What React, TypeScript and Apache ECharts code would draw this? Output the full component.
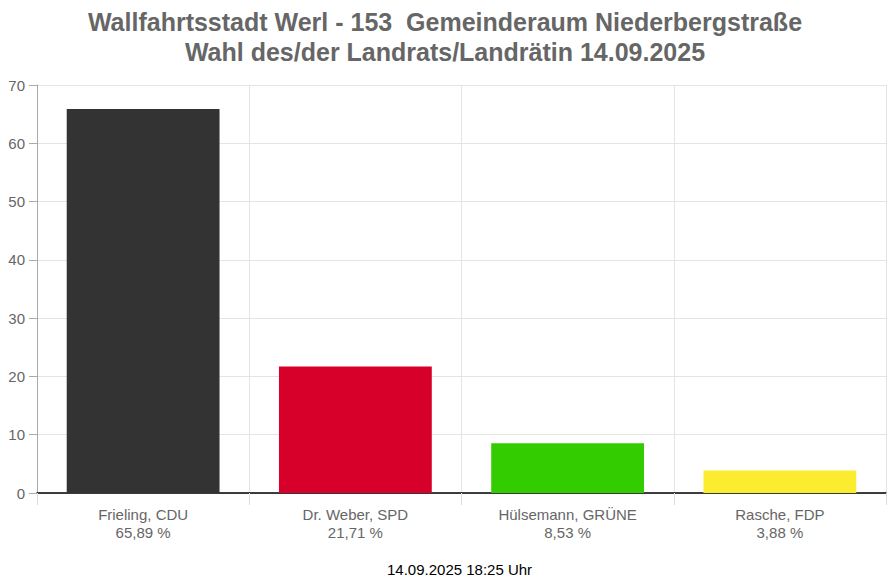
import React, { useEffect, useRef } from "react";
import * as echarts from "echarts";

const categories = ["Frieling, CDU", "Dr. Weber, SPD", "Hülsemann, GRÜNE", "Rasche, FDP"];
const values = [65.89, 21.71, 8.53, 3.88];
const percentLabels = ["65,89 %", "21,71 %", "8,53 %", "3,88 %"];
const colors = ["#333333", "#d7002a", "#33cc00", "#fcec30"];
const titleLines = [
  "Wallfahrtsstadt Werl - 153  Gemeinderaum Niederbergstraße",
  "Wahl des/der Landrats/Landrätin 14.09.2025",
];
const footer = "14.09.2025 18:25 Uhr";

const FONT = "Arial, 'Liberation Sans', sans-serif";

export default function App() {
  const ref = useRef<HTMLDivElement>(null);
  useEffect(() => {
    document.body.style.margin = "0";
    if (!ref.current) return;
    const chart = echarts.init(ref.current, null, { renderer: "svg" });
    chart.setOption({
      animation: false,
      title: {
        text: titleLines.join("\n"),
        left: "center",
        top: 2,
        textStyle: {
          fontFamily: FONT,
          fontSize: 25,
          fontWeight: "bold",
          color: "#666666",
          lineHeight: 30,
        },
      },
      graphic: [
        {
          type: "text",
          left: 387,
          top: 562,
          style: { text: footer, fontFamily: FONT, fontSize: 15, fill: "#000" },
        },
      ],
      grid: { left: 37, right: 4, top: 85, bottom: 92 },
      xAxis: {
        type: "category",
        data: categories,
        boundaryGap: true,
        axisLine: { lineStyle: { color: "#000", width: 1.5 } },
        axisTick: { show: true, length: 12, lineStyle: { color: "#dddddd" } },
        splitLine: { show: true, lineStyle: { color: "#e4e4e4" } },
        axisLabel: {
          fontFamily: FONT,
          fontSize: 15,
          color: "#666666",
          lineHeight: 18,
          margin: 12,
          formatter: (v: string, i: number) => v + "\n" + percentLabels[i],
        },
      },
      yAxis: {
        type: "value",
        min: 0,
        max: 70,
        interval: 10,
        axisLine: { show: true, lineStyle: { color: "#aaaaaa" } },
        axisTick: { show: true, length: 8, lineStyle: { color: "#aaaaaa" } },
        splitLine: { show: true, lineStyle: { color: "#e4e4e4" } },
        axisLabel: { fontFamily: FONT, fontSize: 15, color: "#666666", margin: 12 },
      },
      series: [
        {
          type: "bar",
          barWidth: "72%",
          data: values.map((v, i) => ({ value: v, itemStyle: { color: colors[i] } })),
        },
      ],
    });
    return () => chart.dispose();
  }, []);
  return <div ref={ref} style={{ width: 890, height: 585 }} />;
}
